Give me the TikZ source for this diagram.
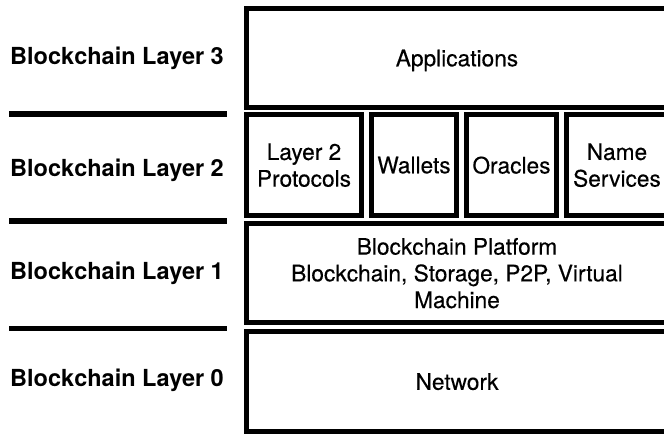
\documentclass[tikz,border=0pt]{standalone}
\usepackage{fontspec}
\setmainfont{TeX Gyre Heros}
\newfontfamily\boxfont[FakeBold=0.3]{TeX Gyre Heros}

\begin{document}
\begin{tikzpicture}[x=1pt, y=-1pt,
	layerbox/.style={draw, line width=5pt, inner sep=0pt, align=center, text depth=0pt, font=\boxfont\fontsize{22.7}{26.7}\selectfont},
	layerlabel/.style={anchor=base west, inner sep=0pt, font=\fontsize{23.5}{28}\selectfont\bfseries},
	divider/.style={line width=5.5pt}]
				
				\clip (0,0) rectangle (664,434);
				
				\node[layerlabel] (L3) at (10,64) {Blockchain Layer 3};
				\node[layerlabel] (L2) at (10,176.5) {Blockchain Layer 2};
				\node[layerlabel] (L1) at (10,279) {Blockchain Layer 1};
				\node[layerlabel] (L0) at (10,386) {Blockchain Layer 0};
				
				\draw[divider] (9.3,114) -- (226.7,114);
				\draw[divider] (9.3,221) -- (226.7,221);
				\draw[divider] (9.3,328.5) -- (226.7,328.5);
				
				\node[layerbox, minimum width=421pt, minimum height=99pt] (apps) at (457,58) {Applications};
				
				\node[layerbox, minimum width=115pt, minimum height=101pt] (protocols) at (304,165) {Layer 2\\Protocols};
				\node[layerbox, minimum width=85pt, minimum height=101pt] (wallets) at (414,165) {Wallets};
				\node[layerbox, minimum width=90pt, minimum height=101pt] (oracles) at (511.5,165) {Oracles};
				\node[layerbox, minimum width=101pt, minimum height=101pt] (names) at (617,165) {Name\\Services};
				
				\node[layerbox, minimum width=421pt, minimum height=99pt] (platform) at (457,273) {Blockchain Platform\\Blockchain, Storage, P2P, Virtual\\Machine};
				
				\node[layerbox, minimum width=421pt, minimum height=100pt] (network) at (457,381.5) {Network};
				
\end{tikzpicture}
\end{document}
